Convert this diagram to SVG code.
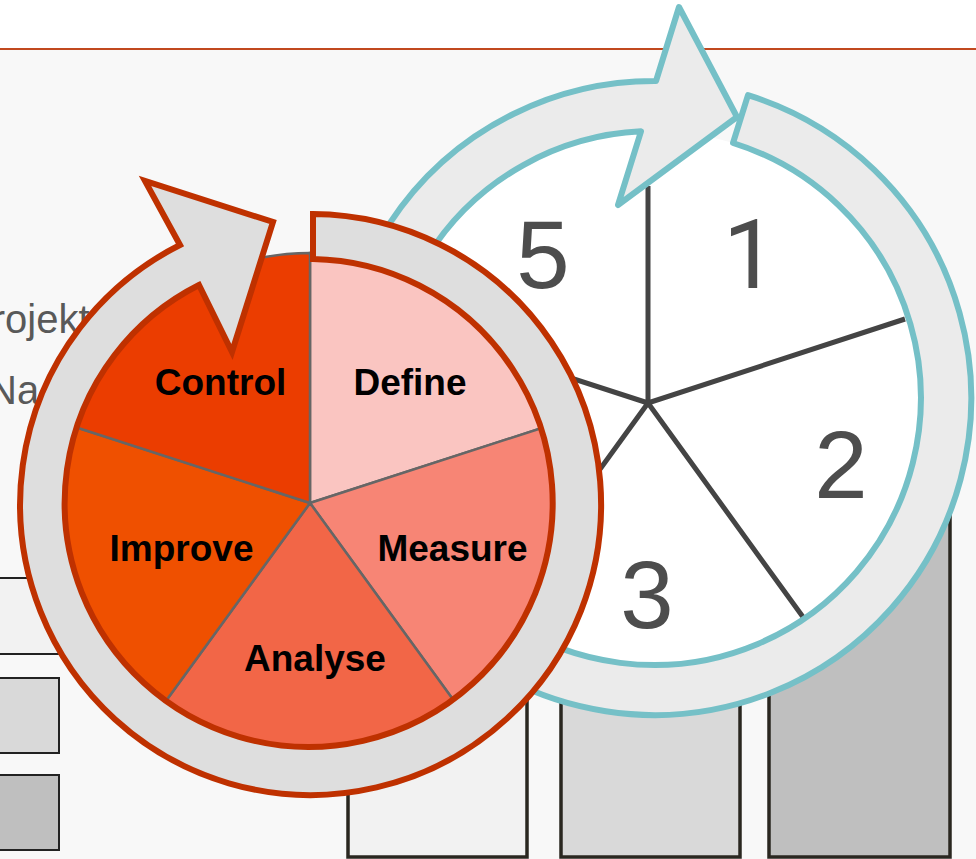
<svg xmlns="http://www.w3.org/2000/svg" width="976" height="859" viewBox="0 0 976 859">
<style>
.bar{stroke:#2a2720;stroke-width:3.500}
.key{stroke:#222;stroke-width:2}
.bg{font-family:"Liberation Sans",Arial,sans-serif;font-size:40px;fill:#595959}
.num{font-family:"Liberation Sans",Arial,sans-serif;font-size:96px;fill:#4d4d4d;text-anchor:middle}
.lab{font-family:"Liberation Sans",Arial,sans-serif;font-size:37px;font-weight:bold;fill:#000;text-anchor:middle}
.spoke{stroke:#444;stroke-width:5;fill:none}
.slice{stroke:#666;stroke-width:2.500}
</style>
<rect width="976" height="859" fill="#fff"/>
<rect y="49" width="976" height="810" fill="#f8f8f8"/>
<line x1="0" y1="49" x2="976" y2="49" stroke="#c1491f" stroke-width="2"/>
<g id="background-text">
<text class="bg" x="-35" y="333">Projekt</text>
<text class="bg" x="-12" y="404">Na</text>
</g>
<g id="bars">
<rect class="key" x="-5" y="578" width="64" height="76" fill="#f2f2f2"/>
<rect class="key" x="-5" y="678" width="64" height="75" fill="#d9d9d9"/>
<rect class="key" x="-5" y="775" width="64" height="75" fill="#bfbfbf"/>
<rect class="bar" x="348" y="600" width="179" height="257" fill="#f2f2f2"/>
<rect class="bar" x="561" y="600" width="179" height="257" fill="#d9d9d9"/>
<rect class="bar" x="769" y="480" width="181" height="377" fill="#bfbfbf"/>
</g>
<g id="cycle-teal">
<circle cx="654" cy="398" r="267" fill="#fff"/>
<g id="teal-spokes">
<path class="spoke" d="M648 186V403L905 319M648 403L803 617M648 403L500 355M648 403L540 552"/>
</g>
<path d="M748 95.200A317 317 0 1 1 656 81L679 7L737 117L618 205L641 131.300A267 267 0 1 0 733 143Z" fill="#ebebeb" stroke="#75c0c7" stroke-width="6" stroke-linejoin="round"/>
<text class="num" x="750" y="288" style="font-family:Roboto,'Liberation Sans',sans-serif">1</text>
<text class="num" x="841" y="498">2</text>
<text class="num" x="647" y="628">3</text>
<text class="num" x="543" y="288">5</text>
</g>
<g id="cycle-red">
<g id="slice-define"><path class="slice" d="M310 503V253A250 250 0 0 1 548 426Z" fill="#fac5c1"/><text class="lab" x="410" y="395">Define</text></g>
<g id="slice-measure"><path class="slice" d="M310 503L548 426A250 250 0 0 1 457 705Z" fill="#f78575"/><text class="lab" x="452.500" y="561">Measure</text></g>
<g id="slice-analyse"><path class="slice" d="M310 503L457 705A250 250 0 0 1 163 705Z" fill="#f26647"/><text class="lab" x="315" y="671">Analyse</text></g>
<g id="slice-improve"><path class="slice" d="M310 503L163 705A250 250 0 0 1 72 426Z" fill="#ef5000"/><text class="lab" x="181.500" y="561">Improve</text></g>
<g id="slice-control"><path class="slice" d="M310 503L72 426A250 250 0 0 1 310 253Z" fill="#eb3d00"/><text class="lab" x="220.500" y="395">Control</text></g>
<path d="M313 214A290.500 290.500 0 1 1 180 245L145 181L273 222L232 352L199 285A244 244 0 1 0 313 259Z" fill="#dedede" stroke="#bf3100" stroke-width="6" stroke-miterlimit="10"/>
</g>
</svg>
